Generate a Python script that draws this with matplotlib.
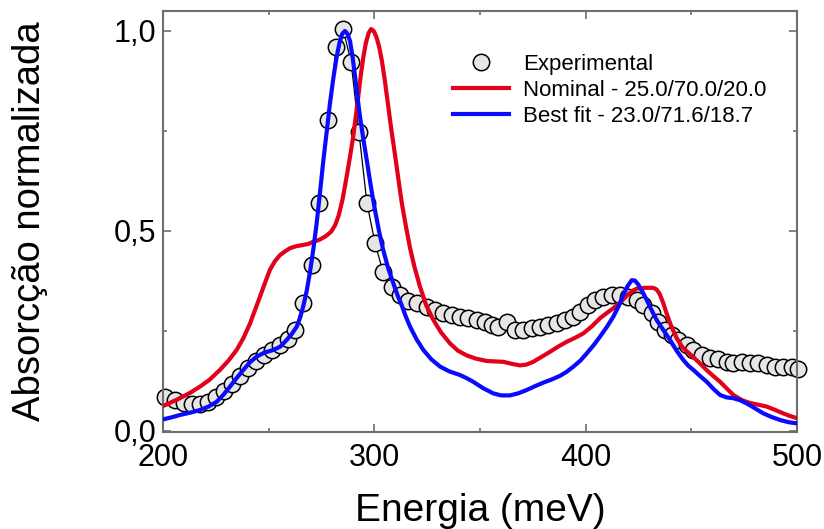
import matplotlib
matplotlib.use("Agg")
import matplotlib.pyplot as plt
from matplotlib.ticker import MultipleLocator, FuncFormatter

plt.rcParams['font.family'] = ['Liberation Sans', 'DejaVu Sans']

# Experimental data
exp_x = [200.9, 205.7, 209.9, 213.7, 217.5, 221.3, 225.1, 228.9, 232.7, 236.4,
         240.2, 244.0, 247.8, 251.6, 255.4, 259.1, 262.5, 266.2, 270.5, 273.8,
         278.1, 281.9, 285.2, 289.0, 292.7, 296.5, 300.3, 304.1, 308.4, 312.1,
         315.9, 320.2, 324.8, 328.7, 332.5, 336.6, 340.5, 344.3, 348.4, 352.4,
         355.5, 358.5, 362.6, 366.6, 370.3, 374.5, 378.4, 382.2, 386.3, 390.2,
         394.0, 397.3, 401.1, 404.4, 408.2, 412.3, 416.3, 420.0, 424.2, 427.1,
         431.3, 434.2, 437.5, 440.7, 443.7, 447.8, 450.8, 454.9, 458.8, 462.6,
         466.7, 469.7, 473.8, 477.7, 481.5, 485.6, 489.5, 493.3, 497.5, 500.3]
exp_y = [0.085, 0.0775, 0.07, 0.0675, 0.0675, 0.0725, 0.085, 0.1, 0.1175, 0.1375,
         0.1575, 0.175, 0.19, 0.2025, 0.215, 0.23, 0.2525, 0.32, 0.415, 0.57,
         0.7775, 0.96, 1.005, 0.9225, 0.7475, 0.57, 0.47, 0.3975, 0.36, 0.34,
         0.325, 0.32, 0.311, 0.3025, 0.295, 0.29, 0.286, 0.2825, 0.2775, 0.273,
         0.265, 0.261, 0.273, 0.2525, 0.2525, 0.2575, 0.261, 0.265, 0.27, 0.2775,
         0.286, 0.298, 0.315, 0.3275, 0.335, 0.339, 0.34, 0.336, 0.3275, 0.315,
         0.295, 0.273, 0.2525, 0.24, 0.2275, 0.215, 0.2025, 0.19, 0.1825, 0.18,
         0.173, 0.171, 0.173, 0.171, 0.17, 0.165, 0.161, 0.161, 0.159, 0.155]

# Nominal simulation
nom_x = [200, 204, 208, 213, 217.5, 222, 227, 231, 234.9, 238, 241.2, 243.5,
         245.9, 248.3, 250.6, 253, 255.4, 258, 260.1, 263, 266.2, 269, 271, 274,
         277, 279.5, 281.5, 283.2, 285, 286.9, 288.5, 290.0, 291.2, 292.4, 293.6,
         294.8, 296, 297.3, 298.5, 299.7, 301, 302.3, 303.6, 305, 306.5, 308,
         309.8, 311.5, 313.0, 315, 316.9, 319, 321.6, 324.5, 327.9, 331.5, 335.8,
         339.5, 343.7, 348, 353.2, 357, 361.0, 365, 368.9, 372, 375.2, 379, 383.1,
         387, 391.0, 395, 398.9, 403, 406.8, 410, 413.1, 416.5, 419.4, 422, 424.2,
         428, 432.0, 433.5, 435, 436.7, 438.3, 440.5, 443.1, 446, 449.4, 453.5,
         457.3, 460.5, 463.6, 467, 469.9, 474, 477.8, 481.5, 485.7, 489.5, 493.5,
         497, 500]
nom_y = [0.0625, 0.072, 0.082, 0.096, 0.111, 0.128, 0.153, 0.176, 0.203, 0.232,
         0.269, 0.302, 0.336, 0.371, 0.403, 0.425, 0.44, 0.45, 0.457, 0.462,
         0.465, 0.468, 0.473, 0.478, 0.487, 0.498, 0.515, 0.54, 0.58, 0.636,
         0.686, 0.736, 0.786, 0.836, 0.89, 0.935, 0.97, 0.995, 1.005, 1.0,
         0.985, 0.96, 0.925, 0.875, 0.815, 0.755, 0.69, 0.625, 0.57, 0.51,
         0.4575, 0.41, 0.361, 0.315, 0.278, 0.247, 0.219, 0.201, 0.189, 0.181,
         0.175, 0.174, 0.173, 0.168, 0.164, 0.166, 0.173, 0.185, 0.198, 0.211,
         0.223, 0.233, 0.244, 0.262, 0.282, 0.295, 0.307, 0.322, 0.338, 0.35,
         0.356, 0.358, 0.358, 0.354, 0.343, 0.32, 0.294, 0.262, 0.232, 0.208,
         0.192, 0.172, 0.152, 0.137, 0.123, 0.105, 0.09, 0.077, 0.07, 0.066,
         0.061, 0.053, 0.044, 0.037, 0.032]

# Best fit simulation
fit_x = [200, 204, 208, 213, 217.5, 221.5, 225.4, 228.5, 231.7, 234.8, 238.0,
         241, 244.3, 248, 252.2, 255.5, 258.5, 261, 263.3, 265, 266.4, 268,
         269.6, 271.2, 272.7, 274.3, 275.9, 277.5, 279.0, 280.6, 282.2, 283.5,
         284.8, 286.1, 287.3, 288.5, 289.7, 290.9, 292, 293.2, 294.8, 296.4,
         298.3, 300.3, 302.2, 304.2, 306.5, 309.0, 311, 312.9, 314.9, 316.9, 320,
         323.2, 327, 331.1, 335.5, 340.5, 343.7, 346.8, 351.5, 356.3, 360, 364.2,
         368, 372.1, 376, 380.0, 384, 387.9, 391, 394.2, 397.5, 400.5, 403.7,
         406.8, 410, 413.1, 415.6, 417.8, 419.8, 421.8, 423.3, 424.9, 426.9,
         428.9, 431.2, 433.6, 436.8, 439.9, 443, 446.2, 448.6, 451.0, 454, 457.3,
         460.5, 463.6, 466.7, 469.9, 473, 476.2, 480, 484.1, 488, 492.0, 496, 500]
fit_y = [0.029, 0.034, 0.04, 0.046, 0.0525, 0.061, 0.073, 0.09, 0.111, 0.132,
         0.1525, 0.171, 0.186, 0.196, 0.2025, 0.211, 0.2275, 0.243, 0.261, 0.285,
         0.3125, 0.35, 0.399, 0.457, 0.519, 0.597, 0.6775, 0.75, 0.819, 0.882,
         0.936, 0.97, 0.993, 1.0, 0.993, 0.975, 0.935, 0.886, 0.836, 0.786,
         0.73, 0.6775, 0.613, 0.5525, 0.5, 0.4525, 0.408, 0.369, 0.339, 0.315,
         0.286, 0.261, 0.229, 0.2025, 0.179, 0.161, 0.149, 0.14, 0.132, 0.123,
         0.107, 0.094, 0.089, 0.089, 0.094, 0.1025, 0.112, 0.121, 0.129, 0.138,
         0.148, 0.161, 0.176, 0.194, 0.214, 0.236, 0.26, 0.286, 0.312, 0.34,
         0.362, 0.377, 0.376, 0.366, 0.348, 0.3275, 0.302, 0.2775, 0.252, 0.2275,
         0.201, 0.1775, 0.163, 0.1525, 0.138, 0.123, 0.105, 0.09, 0.084, 0.082,
         0.077, 0.069, 0.057, 0.044, 0.035, 0.0275, 0.022, 0.019]

labels = ["Experimental", "Nominal - 25.0/70.0/20.0", "Best fit - 23.0/71.6/18.7"]
x_ticks = [200, 300, 400, 500]
y_ticks = [0.0, 0.5, 1.0]

red = '#e3001b'
blue = '#0a0aff'
spine_col = '#6e6e6e'

fig = plt.figure(figsize=(8.24, 5.29), dpi=100)
ax = fig.add_axes([163/824, 1-432/529, 634/824, 421/529])

ax.plot(exp_x, exp_y, color='black', lw=0.9, zorder=2, clip_on=False)
ax.plot(exp_x, exp_y, linestyle='none', marker='o', markersize=11.8,
        markerfacecolor='#e6e6e6', markeredgecolor='black', markeredgewidth=1.1,
        zorder=2.5, clip_on=False, label=labels[0])
ax.plot(nom_x, nom_y, color=red, lw=3.0, zorder=3, label=labels[1],
        solid_joinstyle='round')
ax.plot(fit_x, fit_y, color=blue, lw=3.0, zorder=4, label=labels[2],
        solid_joinstyle='round')

ax.set_xlim(200, 500)
ax.set_ylim(-0.0025, 1.05)
ax.set_xticks(x_ticks)
ax.set_yticks(y_ticks)
ax.xaxis.set_minor_locator(MultipleLocator(50))
ax.yaxis.set_minor_locator(MultipleLocator(0.25))
ax.yaxis.set_major_formatter(FuncFormatter(lambda v, p: f"{v:.1f}".replace('.', ',')))

ax.tick_params(which='both', direction='in', top=True, right=True,
               color=spine_col, width=1.2, labelsize=22, labelcolor='black')
ax.tick_params(which='major', length=6)
ax.tick_params(which='minor', length=3)
ax.tick_params(axis='x', pad=8)
ax.tick_params(axis='y', pad=5)
for s in ax.spines.values():
    s.set_color(spine_col)
    s.set_linewidth(1.5)

ax.set_xlabel("Energia (meV)", fontsize=28, labelpad=14)
ax.set_ylabel("Absorcção normalizada", fontsize=27.5)
ax.yaxis.set_label_coords(-0.182, 0.5)

leg = ax.legend(loc='upper left', bbox_to_anchor=(0.458, 0.899), frameon=False,
                fontsize=16, handlelength=2.5, handletextpad=0.63,
                labelspacing=0.23, borderpad=0, borderaxespad=0)

fig.savefig("out.png", dpi=100)
